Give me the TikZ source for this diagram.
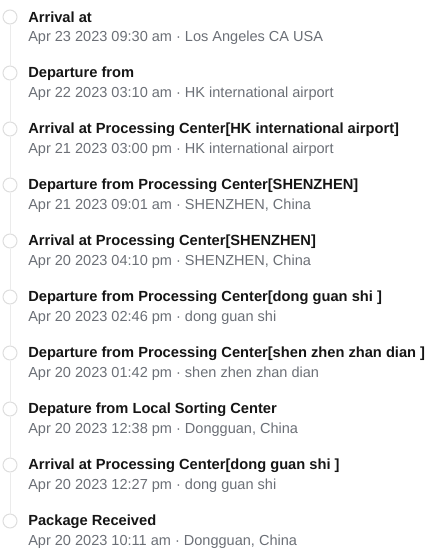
\documentclass[tikz,border=0pt]{standalone}
\usepackage{fontspec}
\setmainfont{Liberation Sans}
\usepackage{xcolor}
\usetikzlibrary{positioning}

\definecolor{titlegray}{HTML}{151515}
\definecolor{subgray}{HTML}{6B6F76}
\definecolor{dotgray}{HTML}{DEDEDE}
\definecolor{railgray}{HTML}{EBEBEB}

\tikzset{
  dot/.style={circle, draw=dotgray, fill=white, line width=0.75pt,
    minimum size=10.5pt, inner sep=0pt},
  rail/.style={railgray, line width=0.75pt},
  headline/.style={anchor=west, inner sep=0pt, text=titlegray,
    font=\fontsize{11}{13}\selectfont\bfseries},
  subline/.style={anchor=west, inner sep=0pt, text=subgray,
    font=\fontsize{10.9}{13}\selectfont}
}

\begin{document}
\begin{tikzpicture}[x=0.75pt, y=-0.75pt]
      \useasboundingbox (0, 0) rectangle (443, 554);

      \node [dot] (c1) at (10, 17) {};
      \node [dot] (c2) at (10, 73) {};
      \node [dot] (c3) at (10, 129) {};
      \node [dot] (c4) at (10, 185) {};
      \node [dot] (c5) at (10, 241) {};
      \node [dot] (c6) at (10, 297) {};
      \node [dot] (c7) at (10, 353) {};
      \node [dot] (c8) at (10, 409) {};
      \node [dot] (c9) at (10, 465) {};
      \node [dot] (c10) at (10, 521) {};

      \foreach \a/\b in {1/2, 2/3, 3/4, 4/5, 5/6, 6/7, 7/8, 8/9, 9/10}
        \draw [rail] (c\a) -- (c\b);

      \node [headline] (t1) at (28, 17.5) {Arrival at};
      \node [subline] (s1) at (28, 37.5) {Apr 23 2023 09:30 am · Los Angeles CA USA};

      \node [headline] (t2) at (28, 73.5) {Departure from};
      \node [subline] (s2) at (28, 93.5) {Apr 22 2023 03:10 am · HK international airport};

      \node [headline] (t3) at (28, 129.5) {Arrival at Processing Center[HK international airport]};
      \node [subline] (s3) at (28, 149.5) {Apr 21 2023 03:00 pm · HK international airport};

      \node [headline] (t4) at (28, 185.5) {Departure from Processing Center[SHENZHEN]};
      \node [subline] (s4) at (28, 205.5) {Apr 21 2023 09:01 am · SHENZHEN, China};

      \node [headline] (t5) at (28, 241.5) {Arrival at Processing Center[SHENZHEN]};
      \node [subline] (s5) at (28, 261.5) {Apr 20 2023 04:10 pm · SHENZHEN, China};

      \node [headline] (t6) at (28, 297.5) {Departure from Processing Center[dong guan shi ]};
      \node [subline] (s6) at (28, 317.5) {Apr 20 2023 02:46 pm · dong guan shi};

      \node [headline] (t7) at (28, 353.5) {Departure from Processing Center[shen zhen zhan dian ]};
      \node [subline] (s7) at (28, 373.5) {Apr 20 2023 01:42 pm · shen zhen zhan dian};

      \node [headline] (t8) at (28, 409.5) {Depature from Local Sorting Center};
      \node [subline] (s8) at (28, 429.5) {Apr 20 2023 12:38 pm · Dongguan, China};

      \node [headline] (t9) at (28, 465.5) {Arrival at Processing Center[dong guan shi ]};
      \node [subline] (s9) at (28, 485.5) {Apr 20 2023 12:27 pm · dong guan shi};

      \node [headline] (t10) at (28, 521.5) {Package Received};
      \node [subline] (s10) at (28, 541.5) {Apr 20 2023 10:11 am · Dongguan, China};
    \end{tikzpicture}
\end{document}
